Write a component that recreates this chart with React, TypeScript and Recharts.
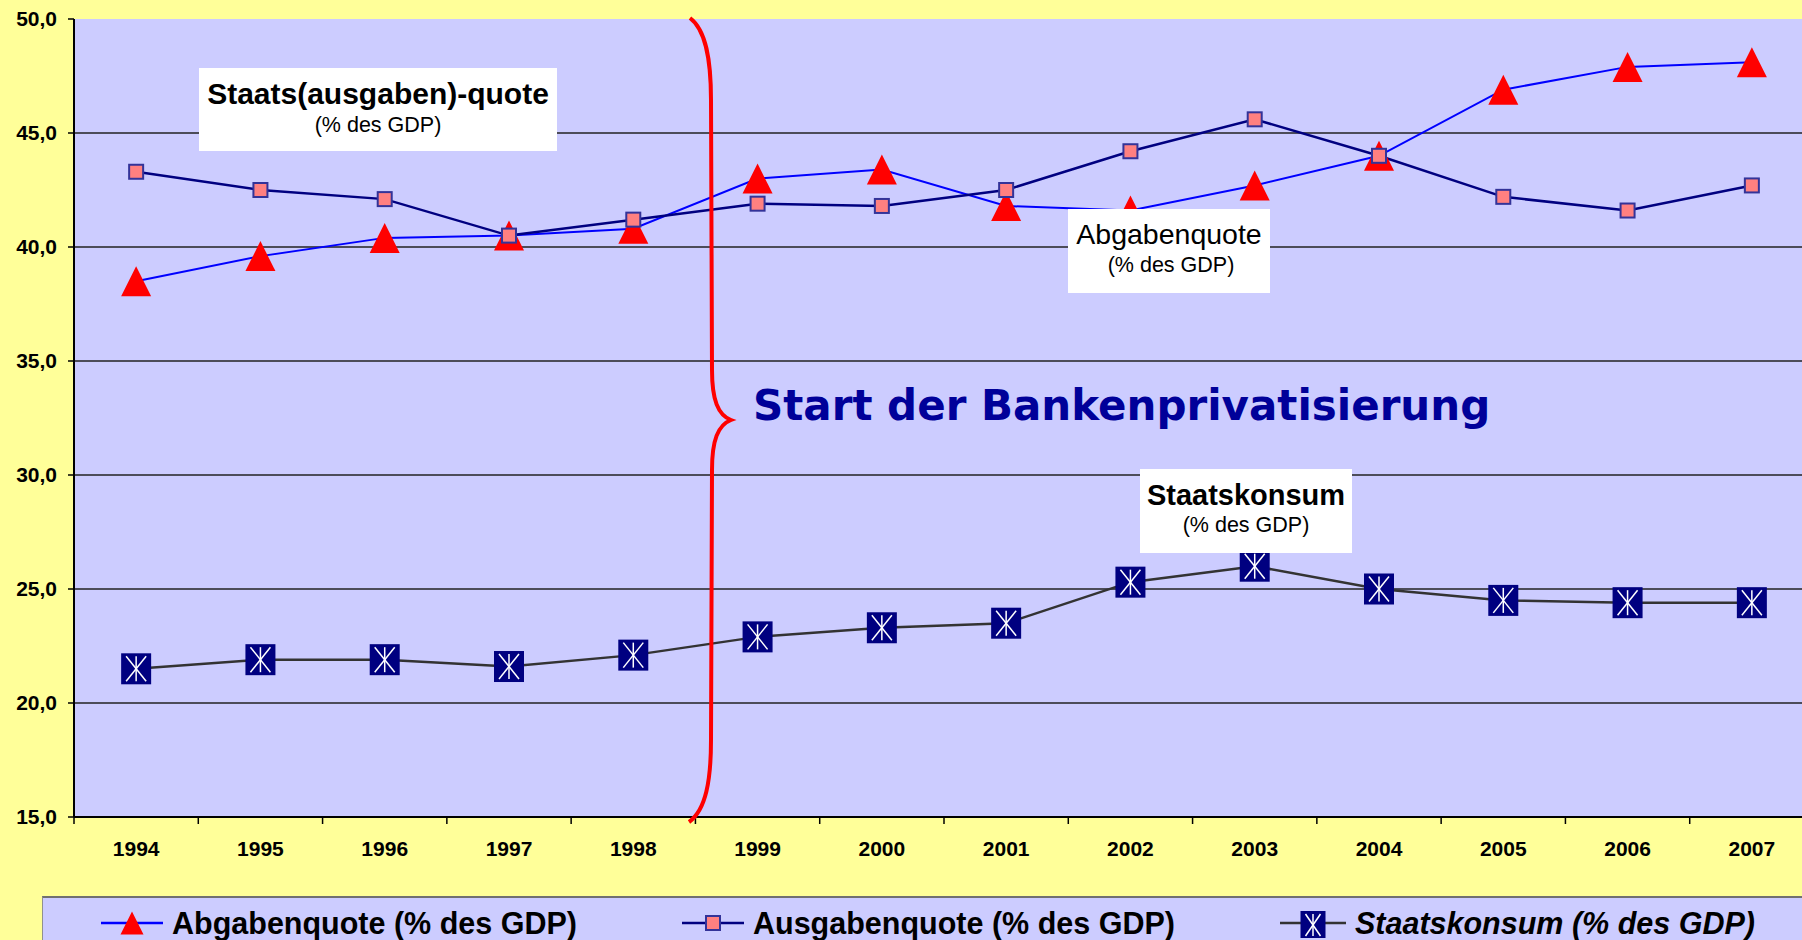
import { LineChart, Line, XAxis, YAxis, CartesianGrid, Legend } from "recharts";

const years = ["1994", "1995", "1996", "1997", "1998", "1999", "2000", "2001", "2002", "2003", "2004", "2005", "2006", "2007"];
const abgabenquote = [38.5, 39.6, 40.4, 40.5, 40.8, 43.0, 43.4, 41.8, 41.6, 42.7, 44.0, 46.9, 47.9, 48.1];
const ausgabenquote = [43.3, 42.5, 42.1, 40.5, 41.2, 41.9, 41.8, 42.5, 44.2, 45.6, 44.0, 42.2, 41.6, 42.7];
const staatskonsum = [21.5, 21.9, 21.9, 21.6, 22.1, 22.9, 23.3, 23.5, 25.3, 26.0, 25.0, 24.5, 24.4, 24.4];
const yTicks = [15, 20, 25, 30, 35, 40, 45, 50];
const gridValues = [20, 25, 30, 35, 40, 45];

const data = years.map((year, i) => ({
  year,
  abgaben: abgabenquote[i],
  ausgaben: ausgabenquote[i],
  konsum: staatskonsum[i],
}));

const FONT = '"Liberation Sans", Arial, sans-serif';
const CHART_W = 1830;
const CHART_H = 940;
const MARGIN = { top: 19, right: 16, left: 0, bottom: 93 };
const Y_AXIS_W = 74;
const X_AXIS_H = 30;
const AXIS_Y = CHART_H - MARGIN.bottom - X_AXIS_H;
const BAND = (CHART_W - MARGIN.right - Y_AXIS_W) / years.length;

function Triangle({ cx, cy, size = 30 }: any) {
  const h = size / 2;
  return <polygon points={`${cx},${cy - h} ${cx - h},${cy + h} ${cx + h},${cy + h}`} fill="#FF0000" />;
}

function Square({ cx, cy, size = 14 }: any) {
  return (
    <rect x={cx - size / 2} y={cy - size / 2} width={size} height={size} fill="#FF8080" stroke="#333399" strokeWidth={2} />
  );
}

function StarBox({ cx, cy, w = 30, h = 31 }: any) {
  const x0 = cx - w / 2;
  const y0 = cy - h / 2;
  const ix = 5;
  const iy = 3;
  return (
    <g>
      <rect x={x0} y={y0} width={w} height={h} fill="#000080" />
      <line x1={x0 + ix} y1={y0 + iy} x2={x0 + w - ix} y2={y0 + h - iy} stroke="#fff" strokeWidth={1.5} />
      <line x1={x0 + w - ix} y1={y0 + iy} x2={x0 + ix} y2={y0 + h - iy} stroke="#fff" strokeWidth={1.5} />
      <line x1={cx} y1={y0 + iy} x2={cx} y2={y0 + h - iy} stroke="#fff" strokeWidth={1.5} />
    </g>
  );
}

function YearTick({ x, y, payload }: any) {
  return (
    <g>
      <line x1={x - BAND / 2} x2={x - BAND / 2} y1={AXIS_Y} y2={AXIS_Y + 7} stroke="#000" strokeWidth={1.5} />
      <text x={x} y={y} dy="0.71em" textAnchor="middle" fontFamily={FONT} fontWeight="bold" fontSize={21} fill="#000">
        {payload.value}
      </text>
    </g>
  );
}

function LegendIcon({ dataKey }: any) {
  if (dataKey === "abgaben") {
    return (
      <svg width={62} height={30}>
        <line x1={0} x2={62} y1={15} y2={15} stroke="#0000FF" strokeWidth={2.5} />
        <Triangle cx={31} cy={15} size={23} />
      </svg>
    );
  }
  if (dataKey === "ausgaben") {
    return (
      <svg width={62} height={30}>
        <line x1={0} x2={62} y1={15} y2={15} stroke="#000080" strokeWidth={2.5} />
        <Square cx={31} cy={15} size={14} />
      </svg>
    );
  }
  return (
    <svg width={66} height={30}>
      <line x1={0} x2={66} y1={15} y2={15} stroke="#333333" strokeWidth={2.5} />
      <StarBox cx={33} cy={17} w={25} h={28} />
    </svg>
  );
}

function renderLegend(props: any) {
  const { payload = [] } = props;
  return (
    <div
      style={{
        boxSizing: "border-box",
        width: "100%",
        height: "100%",
        background: "#CCCCFF",
        borderTop: "2px solid #707070",
        borderLeft: "1px solid #909090",
        display: "flex",
        alignItems: "flex-start",
        paddingLeft: 58,
        paddingTop: 10,
        gap: 105,
      }}
    >
      {payload.map((entry: any) => (
        <div key={entry.dataKey} style={{ display: "flex", alignItems: "center", height: 30 }}>
          <LegendIcon dataKey={entry.dataKey} />
          <span
            style={{
              marginLeft: 9,
              fontFamily: FONT,
              fontWeight: "bold",
              fontStyle: entry.dataKey === "konsum" ? "italic" : "normal",
              fontSize: 30.5,
              lineHeight: "30px",
              color: "#000",
              whiteSpace: "nowrap",
            }}
          >
            {entry.value}
          </span>
        </div>
      ))}
    </div>
  );
}

export default function App() {
  return (
    <div
      style={{
        position: "fixed",
        left: 0,
        top: 0,
        width: 1802,
        height: 940,
        overflow: "hidden",
        background: "#FFFF99",
      }}
    >
      <LineChart width={CHART_W} height={CHART_H} data={data} margin={MARGIN}>
        <CartesianGrid
          vertical={false}
          horizontalValues={gridValues}
          fill="#CCCCFF"
          fillOpacity={1}
          stroke="#222"
          strokeWidth={1.5}
        />
        <XAxis
          dataKey="year"
          height={X_AXIS_H}
          interval={0}
          padding={{ left: BAND / 2, right: BAND / 2 }}
          tickLine={false}
          tickSize={0}
          tickMargin={24}
          tick={<YearTick />}
          axisLine={{ stroke: "#000", strokeWidth: 2 }}
        />
        <YAxis
          width={Y_AXIS_W}
          domain={[15, 50]}
          ticks={yTicks}
          interval={0}
          tickSize={6}
          tickMargin={11}
          tickFormatter={(v: number) => v.toFixed(1).replace(".", ",")}
          tick={{ fontFamily: FONT, fontWeight: "bold", fontSize: 21, fill: "#000" }}
          tickLine={{ stroke: "#000", strokeWidth: 1.5 }}
          axisLine={{ stroke: "#000", strokeWidth: 2 }}
        />
        <Legend
          layout="horizontal"
          verticalAlign="middle"
          align="center"
          content={renderLegend}
          wrapperStyle={{ left: 42, top: 896, width: 1790, height: 46 }}
        />
        <Line
          dataKey="abgaben"
          name="Abgabenquote (% des GDP)"
          stroke="#0000FF"
          strokeWidth={2}
          isAnimationActive={false}
          dot={(p: any) => <Triangle key={`a${p.index}`} cx={p.cx} cy={p.cy} />}
        />
        <Line
          dataKey="ausgaben"
          name="Ausgabenquote (% des GDP)"
          stroke="#000080"
          strokeWidth={2.5}
          isAnimationActive={false}
          dot={(p: any) => <Square key={`b${p.index}`} cx={p.cx} cy={p.cy} />}
        />
        <Line
          dataKey="konsum"
          name="Staatskonsum (% des GDP)"
          stroke="#333333"
          strokeWidth={2.5}
          isAnimationActive={false}
          dot={(p: any) => <StarBox key={`c${p.index}`} cx={p.cx} cy={p.cy} />}
        />
      </LineChart>
      <svg
        width={1802}
        height={940}
        style={{ position: "absolute", left: 0, top: 0, pointerEvents: "none" }}
      >
        <path
          d="M 690 18 C 706 30, 711 60, 711 100 L 712 370 C 712 400, 718 415, 731 420 C 718 425, 712 440, 712 470 L 711 740 C 711 780, 706 810, 689 822"
          fill="none"
          stroke="#FF0000"
          strokeWidth={4}
        />
        <text x={753} y={420} fontFamily='"DejaVu Sans", Verdana, sans-serif' fontWeight="bold" fontSize={42} fill="#000099">
          Start der Bankenprivatisierung
        </text>

        <rect x={199} y={68} width={358} height={83} fill="#fff" />
        <text x={378} y={104} textAnchor="middle" fontFamily={FONT} fontWeight="bold" fontSize={30} fill="#000">
          Staats(ausgaben)-quote
        </text>
        <text x={378} y={132} textAnchor="middle" fontFamily={FONT} fontSize={21.5} fill="#000">
          (% des GDP)
        </text>

        <rect x={1068} y={209} width={202} height={84} fill="#fff" />
        <text x={1169} y={243.5} textAnchor="middle" fontFamily={FONT} fontSize={28.5} fill="#000">
          Abgabenquote
        </text>
        <text x={1171} y={272} textAnchor="middle" fontFamily={FONT} fontSize={21.5} fill="#000">
          (% des GDP)
        </text>

        <rect x={1140} y={469} width={212} height={84} fill="#fff" />
        <text x={1246} y={505} textAnchor="middle" fontFamily={FONT} fontWeight="bold" fontSize={29} fill="#000">
          Staatskonsum
        </text>
        <text x={1246} y={532} textAnchor="middle" fontFamily={FONT} fontSize={21.5} fill="#000">
          (% des GDP)
        </text>
      </svg>
    </div>
  );
}
